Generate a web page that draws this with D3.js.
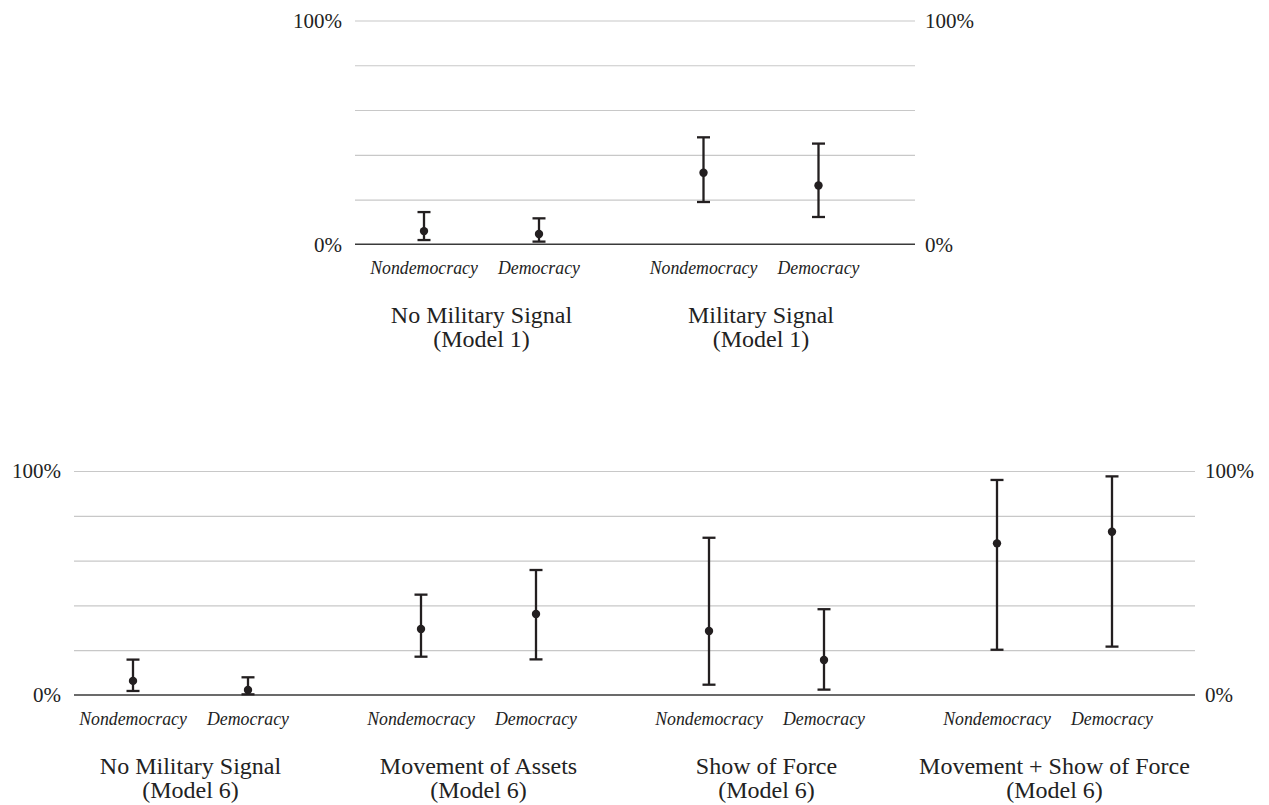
<!DOCTYPE html>
<html>
<head>
<meta charset="utf-8">
<script src="https://cdn.jsdelivr.net/npm/d3@7"></script>
<style>
  body { margin: 0; background: #fff; }
</style>
</head>
<body>
<div id="main"></div>
<script>
///////////
// DATA //
///////////

const categories = ["Nondemocracy", "Democracy"]

// top panel (Model 1)
const topGroups = ["No Military Signal", "Military Signal"]
const topModel = "(Model 1)"
const topEst = [5.9, 4.6, 32.0, 26.3]
const topLo  = [1.9, 1.2, 18.9, 12.2]
const topHi  = [14.4, 11.6, 47.8, 45.0]

// bottom panel (Model 6)
const botGroups = ["No Military Signal", "Movement of Assets", "Show of Force", "Movement + Show of Force"]
const botModel = "(Model 6)"
const botEst = [6.3, 2.2, 29.5, 36.2, 28.6, 15.6, 67.7, 72.9]
const botLo  = [1.8, 0.3, 17.1, 15.9, 4.6, 2.4, 20.2, 21.6]
const botHi  = [15.8, 7.9, 44.8, 55.8, 70.2, 38.3, 96.0, 97.6]

const gridTicks = [0, 20, 40, 60, 80, 100]
const labelTicks = [0, 100]

///////////
// SETUP //
///////////

const width = 1269
const height = 805

const ink = '#231f20'
const grid = '#c8c8c8'
const serif = '"Liberation Serif", serif'

let svg = d3.select("#main").append("svg")
    .attr("width", width)
    .attr("height", height)
    .attr("font-family", serif)

// each panel: plot box, group centres, and the data
let panels = [
    { left: 355, right: 915, top: 20.5, bottom: 244.3, g0: 481.5, g1: 761,
      groups: topGroups, model: topModel, est: topEst, lo: topLo, hi: topHi },
    { left: 74, right: 1195, top: 471, bottom: 695, g0: 190.5, g1: 1054.5,
      groups: botGroups, model: botModel, est: botEst, lo: botLo, hi: botHi }
]

panels.forEach(draw_panel)

//////////
// DRAW //
//////////

function draw_panel(p){
    let y = d3.scaleLinear()
        .domain([0, 100])
        .range([p.bottom, p.top])

    let gx = d3.scalePoint()
        .domain(p.groups)
        .range([p.g0, p.g1])

    let cx = d3.scalePoint()
        .domain(categories)
        .range([-57.5, 57.5])

    let rows = []
    p.groups.forEach(function(g, i){
        categories.forEach(function(c, j){
            let k = i * categories.length + j
            rows.push({ group: g, cat: c, est: p.est[k], lo: p.lo[k], hi: p.hi[k] })
        })
    })
    let xpos = d => gx(d.group) + cx(d.cat)

    let g = svg.append("g")

    // gridlines
    g.append("g")
        .attr("transform", `translate(${p.left},0)`)
        .call(d3.axisRight(y).tickValues(gridTicks.slice(1)).tickSize(p.right - p.left).tickFormat(""))
        .call(a => a.select(".domain").remove())
        .call(a => a.selectAll("line").attr("stroke", grid).attr("stroke-width", 1.2))

    // baseline
    g.append("line")
        .attr("x1", p.left).attr("x2", p.right)
        .attr("y1", y(0)).attr("y2", y(0))
        .attr("stroke", "#3a3a3a")
        .attr("stroke-width", 1.6)

    // tick labels both sides
    let fmt = d => d + "%"
    g.append("g")
        .attr("transform", `translate(${p.left},0)`)
        .call(d3.axisLeft(y).tickValues(labelTicks).tickSize(0).tickPadding(13).tickFormat(fmt))
        .attr("font-family", serif)
        .call(a => a.select(".domain").remove())
        .call(a => a.selectAll("text").attr("font-size", 21).attr("fill", "#222"))
    g.append("g")
        .attr("transform", `translate(${p.right},0)`)
        .call(d3.axisRight(y).tickValues(labelTicks).tickSize(0).tickPadding(10).tickFormat(fmt))
        .attr("font-family", serif)
        .call(a => a.select(".domain").remove())
        .call(a => a.selectAll("text").attr("font-size", 21).attr("fill", "#222"))

    // error bars
    let bars = g.selectAll("g.bar").data(rows)
        .enter().append("g")
            .attr("class", "bar")
            .attr("stroke", ink)
            .attr("stroke-width", 2.3)

    bars.append("line")
        .attr("x1", xpos).attr("x2", xpos)
        .attr("y1", d => y(d.lo)).attr("y2", d => y(d.hi))
    bars.append("line")
        .attr("x1", d => xpos(d) - 6.5).attr("x2", d => xpos(d) + 6.5)
        .attr("y1", d => y(d.hi)).attr("y2", d => y(d.hi))
    bars.append("line")
        .attr("x1", d => xpos(d) - 6.5).attr("x2", d => xpos(d) + 6.5)
        .attr("y1", d => y(d.lo)).attr("y2", d => y(d.lo))
    bars.append("circle")
        .attr("cx", xpos)
        .attr("cy", d => y(d.est))
        .attr("r", 4.2)
        .attr("fill", ink)
        .attr("stroke", "none")

    // category labels
    g.selectAll("text.cat").data(rows)
        .enter().append("text")
            .attr("class", "cat")
            .attr("x", xpos)
            .attr("y", y(0) + 30)
            .attr("text-anchor", "middle")
            .attr("font-size", 17.8)
            .attr("font-style", "italic")
            .attr("fill", "#222")
            .text(d => d.cat)

    // group labels
    let gl = g.selectAll("text.grp").data(p.groups)
        .enter().append("text")
            .attr("class", "grp")
            .attr("text-anchor", "middle")
            .attr("font-size", 24)
            .attr("fill", "#222")
    gl.append("tspan")
        .attr("x", d => gx(d))
        .attr("y", y(0) + 79)
        .text(d => d)
    gl.append("tspan")
        .attr("x", d => gx(d))
        .attr("y", y(0) + 103)
        .text(p.model)
}
</script>
</body>
</html>
